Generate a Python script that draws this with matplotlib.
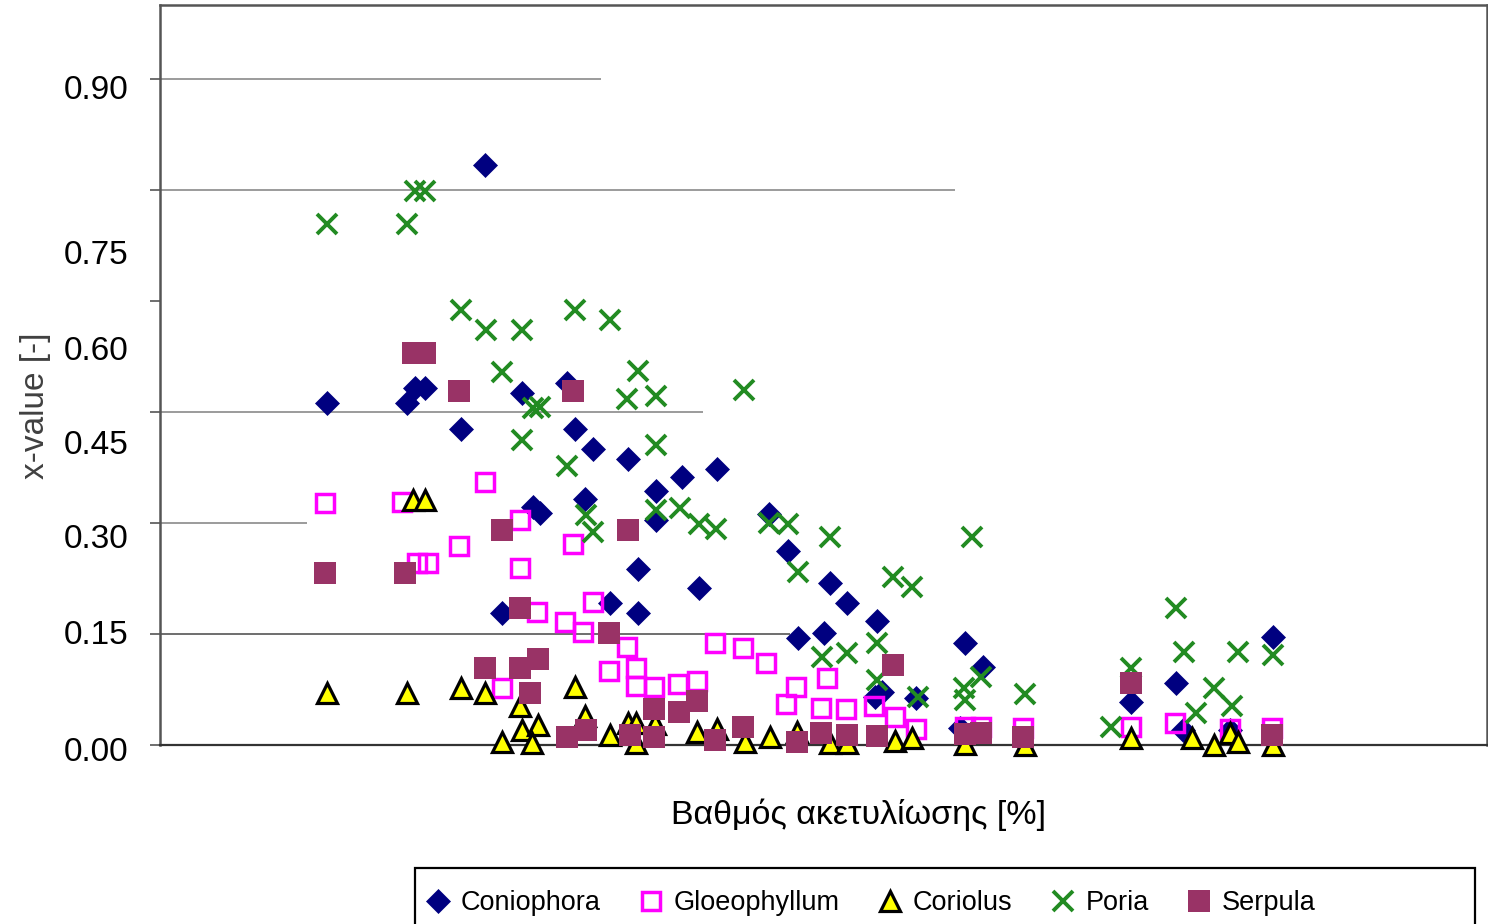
import matplotlib
matplotlib.use("Agg")
import matplotlib.pyplot as plt
from matplotlib.patches import Rectangle

plt.rcParams["font.family"] = ["Liberation Sans", "DejaVu Sans"]

# ── data (x on a 0-100 scale, no tick labels in the original) ──────────────
coniophora_x = [12.6, 18.6, 19.2, 20.0, 22.7, 24.5, 25.8, 27.3, 28.1, 28.6,
                30.7, 31.3, 32.0, 32.6, 33.9, 35.3, 36.0, 36.0, 37.4, 37.4,
                39.3, 40.6, 42.0, 45.9, 47.3, 48.1, 50.0, 50.5, 51.8, 54.0,
                53.9, 54.4, 57.0, 60.7, 62.0, 60.3, 73.2, 76.6, 77.1, 80.6, 83.9]
coniophora_y = [0.462, 0.462, 0.482, 0.482, 0.427, 0.784, 0.178, 0.476, 0.322, 0.314,
                0.489, 0.427, 0.332, 0.400, 0.192, 0.386, 0.238, 0.178, 0.343, 0.304,
                0.362, 0.212, 0.373, 0.312, 0.262, 0.145, 0.151, 0.219, 0.192, 0.168,
                0.065, 0.072, 0.064, 0.138, 0.105, 0.023, 0.058, 0.084, 0.020, 0.020, 0.146]

gloeo_x = [12.4, 18.2, 19.4, 20.2, 22.5, 24.5, 25.8, 27.1, 27.1, 28.4,
           30.5, 31.1, 31.9, 32.6, 33.8, 35.2, 35.9, 35.9, 37.2, 39.0,
           40.5, 41.8, 43.9, 45.7, 47.9, 47.2, 50.3, 49.8, 51.7, 53.8,
           55.4, 57.0, 60.7, 61.9, 65.0, 73.2, 76.5, 80.6, 83.8]
gloeo_y = [0.327, 0.328, 0.246, 0.246, 0.269, 0.355, 0.077, 0.304, 0.239, 0.180,
           0.166, 0.272, 0.153, 0.193, 0.100, 0.132, 0.104, 0.080, 0.078, 0.082,
           0.086, 0.138, 0.131, 0.111, 0.078, 0.055, 0.091, 0.050, 0.049, 0.053,
           0.038, 0.022, 0.024, 0.024, 0.023, 0.024, 0.030, 0.022, 0.023]

coriolus_x = [12.6, 18.6, 19.1, 20.0, 22.7, 24.5, 25.8, 27.1, 27.3, 28.5,
              28.0, 31.3, 32.0, 33.9, 35.3, 35.9, 35.9, 37.3, 40.5, 42.0,
              44.1, 46.0, 48.0, 50.5, 51.8, 55.4, 56.7, 60.7, 65.2, 73.2,
              77.8, 79.4, 80.6, 81.2, 83.9]
coriolus_y = [0.070, 0.070, 0.331, 0.331, 0.077, 0.070, 0.004, 0.053, 0.020, 0.027,
              0.003, 0.078, 0.039, 0.014, 0.030, 0.030, 0.003, 0.028, 0.018, 0.022,
              0.004, 0.011, 0.018, 0.003, 0.003, 0.005, 0.009, 0.001, 0.000, 0.009,
              0.009, 0.000, 0.016, 0.004, 0.000]

poria_x = [12.6, 18.6, 19.2, 20.0, 22.7, 24.6, 25.8, 27.3, 27.3, 28.1,
           28.6, 30.7, 31.3, 32.1, 32.6, 33.9, 35.2, 36.0, 37.4, 37.4,
           37.4, 39.2, 40.6, 41.9, 44.0, 45.9, 47.3, 48.1, 49.9, 50.5,
           51.8, 54.0, 54.0, 55.2, 56.7, 57.1, 60.6, 60.7, 61.2, 61.9,
           65.2, 71.7, 73.2, 76.6, 77.2, 78.1, 79.4, 80.8, 81.2, 83.9]
poria_y = [0.704, 0.704, 0.749, 0.749, 0.588, 0.561, 0.504, 0.561, 0.412, 0.455,
           0.457, 0.377, 0.588, 0.311, 0.288, 0.574, 0.468, 0.505, 0.472, 0.405,
           0.318, 0.320, 0.299, 0.292, 0.480, 0.300, 0.299, 0.234, 0.119, 0.281,
           0.124, 0.138, 0.088, 0.227, 0.214, 0.065, 0.077, 0.061, 0.281, 0.092,
           0.069, 0.024, 0.104, 0.185, 0.126, 0.043, 0.077, 0.053, 0.126, 0.122]

serpula_x = [12.4, 18.5, 19.1, 20.0, 22.5, 24.5, 25.8, 27.1, 27.1, 27.9,
             28.5, 30.7, 31.1, 32.1, 33.8, 35.3, 35.4, 37.2, 37.2, 39.1,
             40.5, 41.8, 43.9, 48.0, 49.8, 51.8, 54.0, 55.2, 60.7, 61.9,
             65.0, 73.2, 83.8]
serpula_y = [0.232, 0.232, 0.530, 0.530, 0.478, 0.104, 0.291, 0.185, 0.104, 0.070,
             0.116, 0.011, 0.478, 0.020, 0.151, 0.291, 0.014, 0.049, 0.011, 0.045,
             0.059, 0.007, 0.024, 0.004, 0.016, 0.014, 0.012, 0.108, 0.015, 0.016,
             0.011, 0.084, 0.014]

# partial horizontal guide lines (value, right end on x scale)
grid_vals = [0.15, 0.30, 0.45, 0.75, 0.90]
grid_ends = [47.5, 11.1, 40.9, 59.9, 33.2]

tick_vals = [0.0, 0.15, 0.30, 0.45, 0.60, 0.75, 0.90]
tick_labels = ["0.00", "0.15", "0.30", "0.45", "0.60", "0.75", "0.90"]
# where the labels were printed (they drift away from their ticks)
label_pos = [-0.010, 0.148, 0.278, 0.405, 0.532, 0.662, 0.885]

# ── figure ──────────────────────────────────────────────────────────────────
fig = plt.figure(figsize=(14.88, 9.24), dpi=100)
ax = fig.add_axes([160 / 1488, 179 / 924, 1327 / 1488, 740 / 924])
ax.set_xlim(0, 100)
ax.set_ylim(0, 1.0)

for y, xe in zip(grid_vals, grid_ends):
    ax.hlines(y, 0, xe, color="#555555" if y == 0.15 else "#8a8a8a", lw=1.2, zorder=1)

ax.plot(coniophora_x, coniophora_y, ls="none", marker="D", ms=12, color="#000080",
        mec="#000080", mew=0.5, label="Coniophora", clip_on=False, zorder=3)
ax.plot(gloeo_x, gloeo_y, ls="none", marker="s", ms=13.5, mfc="none", mec="#ff00ff",
        mew=2.5, label="Gloeophyllum", clip_on=False, zorder=4)
ax.plot(coriolus_x, coriolus_y, ls="none", marker="^", ms=14.5, mfc="#ffff00", mec="black",
        mew=2.3, label="Coriolus", clip_on=False, zorder=5)
ax.plot(poria_x, poria_y, ls="none", marker="x", ms=15, color="#228b22",
        mew=2.8, label="Poria", clip_on=False, zorder=6)
ax.plot(serpula_x, serpula_y, ls="none", marker="s", ms=16.5, color="#993366",
        mew=0, label="Serpula", clip_on=False, zorder=7)

# axes frame and ticks
for side in ["left", "top", "right"]:
    ax.spines[side].set_color("#555555")
    ax.spines[side].set_linewidth(1.8)
ax.spines["bottom"].set_color("#333333")
ax.spines["bottom"].set_linewidth(1.6)
ax.set_xticks([])
ax.set_yticks(tick_vals)
ax.set_yticklabels([])
ax.tick_params(axis="y", length=7, width=1.2, color="#555555", direction="out")

for lab, pos in zip(tick_labels, label_pos):
    ax.text(-0.024, pos, lab, transform=ax.get_yaxis_transform(), ha="right",
            va="center", fontsize=24, color="black")

ax.text(0.526, -0.094, "Βαθμός ακετυλίωσης [%]", transform=ax.transAxes,
        ha="center", va="center", fontsize=24.5, color="black")
ax.text(-0.094, 0.459, "x-value [-]", transform=ax.transAxes, rotation=90,
        ha="center", va="center", fontsize=24, color="#404040")

# legend entries, with a plain frame running off the bottom edge like the original
leg = ax.legend(loc="center left", bbox_to_anchor=(0.2, -0.2135), borderaxespad=0,
                ncol=5, fontsize=19.5, frameon=False, handlelength=0.9,
                handletextpad=0.4, columnspacing=1.4, borderpad=0)
fig.patches.append(Rectangle((415 / 1488, -0.05), 1060 / 1488, (924 - 868) / 924 + 0.05,
                             transform=fig.transFigure, fill=False, edgecolor="black",
                             lw=1.6))

fig.savefig("out.png", dpi=100)
